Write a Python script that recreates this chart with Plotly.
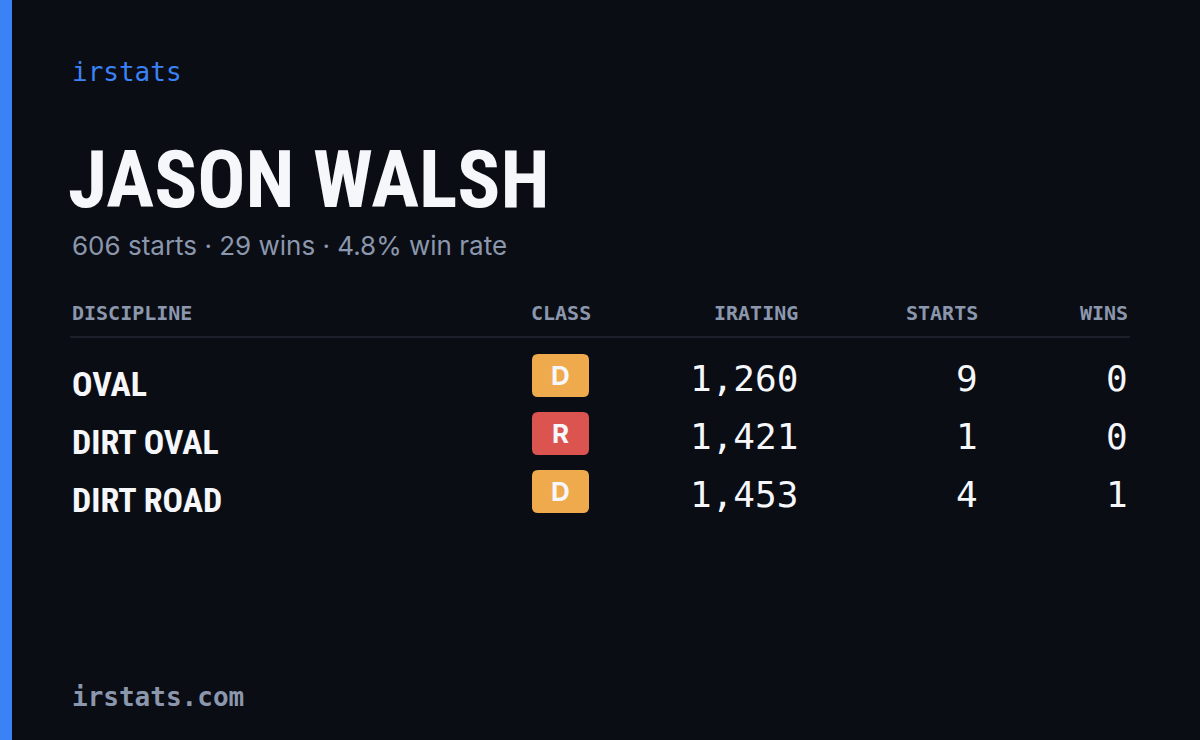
import plotly.graph_objects as go

brand = "irstats"
name = "JASON WALSH"
summary = "606 starts · 29 wins · 4.8% win rate"
columns = ["DISCIPLINE", "CLASS", "IRATING", "STARTS", "WINS"]
disciplines = ["OVAL", "DIRT OVAL", "DIRT ROAD"]
classes = ["D", "R", "D"]
iratings = [1260, 1421, 1453]
starts = [9, 1, 4]
wins = [0, 0, 1]
footer = "irstats.com"

class_colors = {"D": "#efaa4e", "R": "#dc5450"}
BG = "#0a0d14"
MUTED = "#8b97ad"
WHITE = "#f6f7fb"
MONO = "DejaVu Sans Mono"
COND = "Liberation Sans Narrow, Roboto Condensed, Roboto"

fig = go.Figure()
shapes = [
    dict(type="rect", x0=0, x1=12, y0=0, y1=740, fillcolor="#3b82f6", line_width=0),
    dict(type="line", x0=70, x1=1130, y0=337, y1=337, line=dict(color="#1c202b", width=2)),
]
ann = []
def A(x, y, t, size, color, font, xanchor="left", yanchor="middle", weight="normal"):
    ann.append(dict(x=x, y=y, xref="x", yref="y", text=t, showarrow=False,
                    xanchor=xanchor, yanchor=yanchor,
                    font=dict(size=size, color=color, family=font, weight=weight)))

A(70, 72, brand, 26, "#3b82f6", MONO)
A(66, 180, name, 80, WHITE, COND, weight="bold")
A(70, 245, summary, 26, MUTED, "Inter, Noto Sans")
col_x = [70, 593, 800, 980, 1130]
for i, c in enumerate(columns):
    A(col_x[i], 313, c, 20, MUTED, MONO, xanchor="left" if i == 0 else "right", weight="bold")
row_y = [378, 436, 494]
for i in range(len(disciplines)):
    y = row_y[i]
    A(70, y + 6, disciplines[i], 34, WHITE, COND, weight="bold")
    x0, x1, y0, y1, r = 532, 589, y - 24, y + 19, 6
    path = (f"M {x0+r},{y0} L {x1-r},{y0} Q {x1},{y0} {x1},{y0+r} L {x1},{y1-r} Q {x1},{y1} {x1-r},{y1} "
            f"L {x0+r},{y1} Q {x0},{y1} {x0},{y1-r} L {x0},{y0+r} Q {x0},{y0} {x0+r},{y0} Z")
    shapes.append(dict(type="path", path=path, fillcolor=class_colors[classes[i]], line_width=0))
    A(560.5, y - 3, classes[i], 26, WHITE, "Inter, Noto Sans", xanchor="center", weight="bold")
    A(800, y, f"{iratings[i]:,}", 36, WHITE, MONO, xanchor="right")
    A(980, y, str(starts[i]), 36, WHITE, MONO, xanchor="right")
    A(1130, y, str(wins[i]), 36, WHITE, MONO, xanchor="right")
A(70, 697, footer, 26, MUTED, MONO, weight="bold")

fig.update_layout(
    width=1200, height=740, margin=dict(l=0, r=0, t=0, b=0),
    paper_bgcolor=BG, plot_bgcolor=BG, shapes=shapes, annotations=ann,
    xaxis=dict(range=[0, 1200], visible=False, fixedrange=True),
    yaxis=dict(range=[740, 0], visible=False, fixedrange=True),
    showlegend=False,
)
fig.write_html("out.html", config={"displayModeBar": False},
               post_script="document.body.style.margin='0';document.body.style.background='#0a0d14';")
